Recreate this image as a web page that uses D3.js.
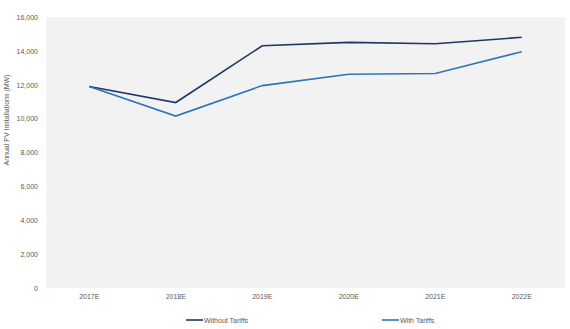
<!DOCTYPE html>
<html><head><meta charset="utf-8">
<script src="https://cdn.jsdelivr.net/npm/d3@7"></script>
<style>body{margin:0;background:#fff;}svg{display:block;font-family:"Liberation Sans",Arial,sans-serif;}</style>
</head><body>
<svg id="c" width="570" height="329"></svg>
<script>
const categories = ["2017E","2018E","2019E","2020E","2021E","2022E"];
const withoutTariffs = [11900, 10950, 14300, 14500, 14420, 14800];
const withTariffs = [11900, 10150, 11950, 12620, 12660, 13950];
const yTicks = [0,2000,4000,6000,8000,10000,12000,14000,16000];
const seriesNames = ["Without Tariffs","With Tariffs"];
const colors = ["#1f3864","#2e75b6"];

const svg = d3.select("#c");
const m = {l:46, r:5, t:17, b:41};
const W = 570, H = 329;
const x = d3.scaleBand().domain(categories).range([m.l, W-m.r]);
const y = d3.scaleLinear().domain([0,16000]).range([H-m.b, m.t]);

svg.append("rect").attr("x",m.l).attr("y",m.t).attr("width",W-m.r-m.l).attr("height",H-m.b-m.t).attr("fill","#f2f2f2");

const ya = svg.append("g").attr("transform",`translate(${m.l},0)`)
  .call(d3.axisLeft(y).tickValues(yTicks).tickFormat(d3.format(",")).tickSize(0).tickPadding(8));
ya.select(".domain").remove();
ya.selectAll("text").attr("fill","#595959").attr("font-size","7px");

const xa = svg.append("g").attr("transform",`translate(0,${H-m.b})`)
  .call(d3.axisBottom(x).tickSize(0).tickPadding(6));
xa.select(".domain").remove();
xa.selectAll("text").attr("fill","#595959").attr("font-size","7px");

svg.append("text").attr("transform",`translate(9,120) rotate(-90)`).attr("text-anchor","middle")
  .attr("fill","#595959").attr("font-size","7px").text("Annual PV Installations (MW)");

const line = d3.line().x((d,i)=>x(categories[i])+x.bandwidth()/2).y(d=>y(d));
[withoutTariffs, withTariffs].forEach((s,i)=>{
  svg.append("path").datum(s).attr("d",line).attr("fill","none").attr("stroke",colors[i]).attr("stroke-width",1.6);
});

const legX = [186, 382];
seriesNames.forEach((n,i)=>{
  svg.append("line").attr("x1",legX[i]).attr("x2",legX[i]+17).attr("y1",320).attr("y2",320).attr("stroke",colors[i]).attr("stroke-width",1.6);
  svg.append("text").attr("x",legX[i]+18).attr("y",322.5).attr("fill","#595959").attr("font-size","7px").text(n);
});
</script>
</body></html>
